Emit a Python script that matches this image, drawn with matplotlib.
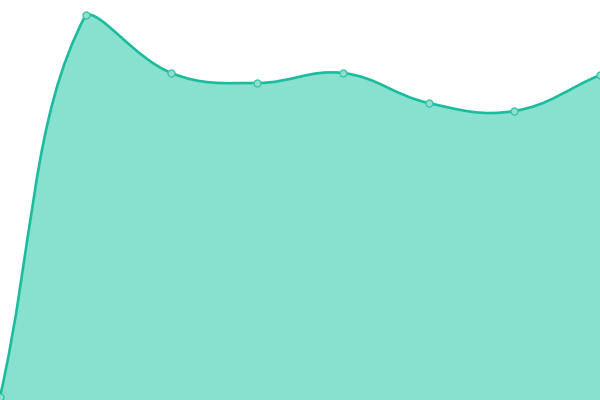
import numpy as np
import matplotlib
matplotlib.use("Agg")
import matplotlib.pyplot as plt
from matplotlib.path import Path
from matplotlib.patches import PathPatch

# values (axis 0..400)
labels = ["p1", "p2", "p3", "p4", "p5", "p6", "p7", "p8"]
values = [3, 385, 327, 317, 327, 297, 289, 325]

line_color = "#1abc9c"
fill_color = "#88e0cf"
tension = 0.4

W, H = 600, 400
fig = plt.figure(figsize=(6, 4), dpi=100)
ax = fig.add_axes([0, 0, 1, 1])
ax.set_xlim(0, W)
ax.set_ylim(0, H)
ax.axis("off")

xs = np.linspace(0, W, len(values))
ys = np.array(values, dtype=float)
pts = np.column_stack([xs, ys])

# spline control points (chart.js style), kept inside the plot area
n = len(pts)
cp_prev = pts.copy()
cp_next = pts.copy()
for i in range(n):
    prev = pts[i - 1] if i > 0 else pts[i]
    cur = pts[i]
    nxt = pts[i + 1] if i < n - 1 else pts[i]
    d01 = np.hypot(*(cur - prev))
    d12 = np.hypot(*(nxt - cur))
    s01 = d01 / (d01 + d12) if d01 + d12 else 0
    s12 = d12 / (d01 + d12) if d01 + d12 else 0
    cp_prev[i] = cur - tension * s01 * (nxt - prev)
    cp_next[i] = cur + tension * s12 * (nxt - prev)
top = 391
cp_prev[:, 1] = np.clip(cp_prev[:, 1], 0, top)
cp_next[:, 1] = np.clip(cp_next[:, 1], 0, top)
cp_prev[:, 0] = np.clip(cp_prev[:, 0], 0, W)
cp_next[:, 0] = np.clip(cp_next[:, 0], 0, W)

verts = [tuple(pts[0])]
codes = [Path.MOVETO]
for i in range(n - 1):
    verts += [tuple(cp_next[i]), tuple(cp_prev[i + 1]), tuple(pts[i + 1])]
    codes += [Path.CURVE4] * 3

line_path = Path(verts, codes)
fill_path = Path(verts + [(xs[-1], 0), (xs[0], 0), verts[0]],
                 codes + [Path.LINETO, Path.LINETO, Path.CLOSEPOLY])

ax.add_patch(PathPatch(fill_path, facecolor=fill_color, edgecolor="none"))
ax.add_patch(PathPatch(line_path, facecolor="none", edgecolor=line_color, lw=1.9))
ax.plot(xs, ys, "o", ms=5, mfc="#8fe0d0", mec="#3cc4a8", mew=1, clip_on=False)

fig.savefig("out.png", dpi=100)
